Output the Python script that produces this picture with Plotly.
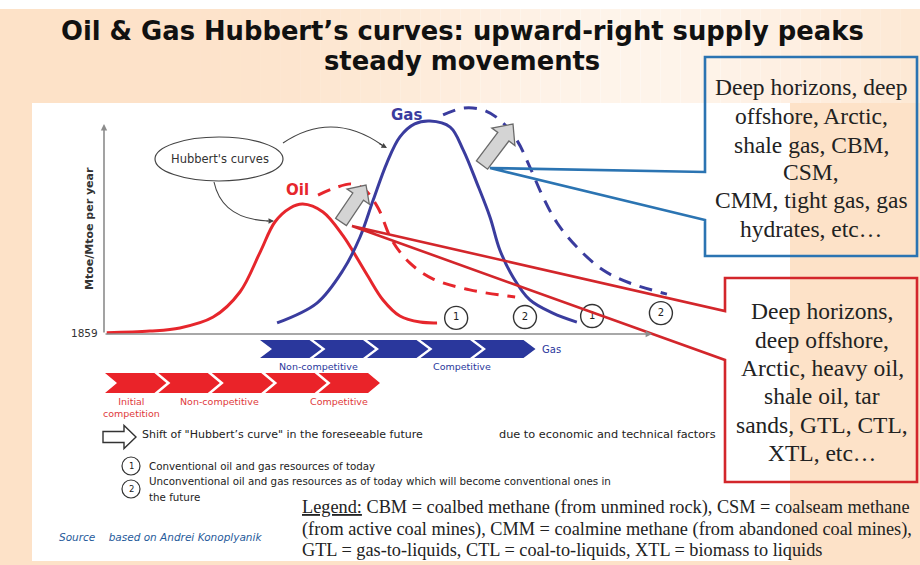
import math
import plotly.graph_objects as go

# ---------------- data (chart units: time index vs. production index) ----------------
oil_x = [0.5, 8.4, 13.9, 20.0, 24.9, 28.6, 31.3, 34.1, 36.4, 40.1, 43.8, 48.2, 51.1, 54.2, 57.9, 61.0]
oil_y = [0.6, 1.4, 2.9, 8.1, 20.1, 39.2, 53.6, 60.3, 62.2, 58.4, 46.9, 28.2, 16.3, 8.6, 5.7, 5.3]
oil_shift_x = [39.2, 42.3, 45.4, 47.8, 50.2, 52.7, 56.0, 60.3, 67.0, 75.3]
oil_shift_y = [66.5, 69.9, 71.8, 68.9, 60.3, 45.0, 34.0, 26.3, 21.1, 17.7]
gas_x = [31.7, 39.0, 43.8, 46.9, 49.3, 51.8, 54.2, 56.9, 59.7, 63.4, 65.8, 68.3, 70.7, 72.5, 74.9, 78.0, 82.2, 86.6]
gas_y = [5.3, 14.8, 30.6, 46.4, 64.1, 81.8, 94.3, 100.5, 101.9, 99.0, 88.0, 72.2, 55.9, 40.2, 27.3, 16.3, 10.0, 5.7]
gas_shift_x = [62.1, 65.8, 69.4, 72.5, 75.6, 78.0, 80.4, 83.0, 86.6, 91.4, 96.3, 103.1]
gas_shift_y = [104.8, 108.1, 107.2, 102.4, 92.8, 79.9, 65.6, 53.1, 41.6, 30.6, 24.4, 19.1]
resource_x = [64.5, 77.1, 89.4, 102.0]
resource_y = [7.7, 8.1, 8.6, 10.0]
resource_labels = ["1", "2", "1", "2"]

gas_phase_count = 5
oil_phase_count = 5
gas_phase_labels = ["Non-competitive", "Competitive"]
oil_phase_labels = ["Initial<br>competition", "Non-competitive", "Competitive"]

title_lines = ["Oil & Gas Hubbert’s curves: upward-right supply peaks", "steady movements"]
gas_box_lines = ["Deep horizons, deep", "offshore, Arctic,", "shale gas, CBM,", "CSM,",
                 "CMM, tight gas, gas", "hydrates, etc…"]
oil_box_lines = ["Deep horizons,", "deep offshore,", "Arctic, heavy oil,", "shale oil, tar",
                 "sands, GTL, CTL,", "XTL, etc…"]
legend_lines = ['<span style="text-decoration:underline">Legend:</span> CBM = coalbed methane (from unmined rock), CSM = coalseam methane',
                "(from active coal mines), CMM = coalmine methane (from abandoned coal mines),",
                "GTL = gas-to-liquids, CTL = coal-to-liquids, XTL = biomass to liquids"]

# ---------------- layout geometry ----------------
W, H = 920, 565
SANS = "DejaVu Sans, Verdana, sans-serif"
SERIF = "Liberation Serif, Times New Roman, serif"
RED = "#e6262c"
NAVY = "#3a3c9e"
BOX_RED = "#d3262b"
BOX_BLUE = "#2b74b2"
CHEV_BLUE = "#2a379c"
CHEV_RED = "#ea2329"
PEACH = "#fde2c8"

# chart axes: origin pixel and px per unit
OX, OY = 104, 334
SX, SY = 5.46, 2.09
CX0, CX1 = 94, 700
CY0, CY1 = 345, 100

fig = go.Figure()

fig.add_trace(go.Scatter(x=[0, W], y=[0, H], mode="markers", marker=dict(opacity=0),
                         hoverinfo="skip", showlegend=False, xaxis="x", yaxis="y"))

def chart_line(xs, ys, color, dash=None):
    fig.add_trace(go.Scatter(x=xs, y=ys, mode="lines", xaxis="x2", yaxis="y2",
                             line=dict(color=color, width=3, shape="spline", smoothing=1.0,
                                       dash=dash), hoverinfo="skip", showlegend=False))

chart_line(oil_x, oil_y, RED)
chart_line(gas_x, gas_y, NAVY)
chart_line(oil_shift_x, oil_shift_y, RED, "13px,9px")
chart_line(gas_shift_x, gas_shift_y, NAVY, "13px,9px")

fig.add_trace(go.Scatter(x=resource_x, y=resource_y, mode="markers+text", text=resource_labels,
                         textposition="middle center", xaxis="x2", yaxis="y2",
                         marker=dict(size=23, color="white", line=dict(color="#333", width=1.4)),
                         textfont=dict(family=SANS, size=10, color="#222"),
                         cliponaxis=False, hoverinfo="skip", showlegend=False))

shapes = []
annotations = []

# background
shapes.append(dict(type="rect", xref="x", yref="y", x0=0, x1=W, y0=0, y1=9,
                   fillcolor="white", line_width=0, layer="below"))
for i in range(46):
    xa = i * 20
    op = 0.62 * math.exp(-((xa + 10 - 640) / 280.0) ** 2)
    shapes.append(dict(type="rect", xref="x", yref="y", x0=xa, x1=xa + 20.5, y0=9, y1=103,
                       fillcolor="white", opacity=op, line_width=0, layer="below"))
shapes.append(dict(type="rect", xref="x", yref="y", x0=32, x1=790, y0=103, y1=561,
                   fillcolor="white", line_width=0, layer="below"))

# title
for txt, ty in zip(title_lines, [31, 61]):
    annotations.append(dict(x=462, y=ty, xref="x", yref="y", text="<b>" + txt + "</b>",
                            showarrow=False, font=dict(family="DejaVu Sans", size=25.8, color="#111")))

# chart axes
annotations.append(dict(x=652, y=OY, ax=OX, ay=OY, xref="x", yref="y", axref="x", ayref="y",
                        text="", showarrow=True, arrowhead=2, arrowsize=0.8, arrowwidth=1.6,
                        arrowcolor="#8c8c8c"))
annotations.append(dict(x=OX, y=124, ax=OX, ay=OY, xref="x", yref="y", axref="x", ayref="y",
                        text="", showarrow=True, arrowhead=2, arrowsize=0.8, arrowwidth=1.6,
                        arrowcolor="#8c8c8c"))
annotations.append(dict(x=89, y=229, xref="x", yref="y", text="<b>Mtoe/Mtoe per year</b>",
                        textangle=-90, showarrow=False,
                        font=dict(family=SANS, size=11, color="#333")))
annotations.append(dict(x=100, y=333, xref="x", yref="y", text="1859", showarrow=False,
                        xanchor="right", font=dict(family=SANS, size=10.5, color="#333")))

# Hubbert's curves bubble
shapes.append(dict(type="circle", xref="x", yref="y", x0=155, x1=283, y0=137, y1=181,
                   line=dict(color="#444", width=1.2), fillcolor="rgba(0,0,0,0)"))
annotations.append(dict(x=220, y=159, xref="x", yref="y", text="Hubbert's curves",
                        showarrow=False, font=dict(family=SANS, size=11.5, color="#333")))
shapes.append(dict(type="path", xref="x", yref="y", path="M 283,143 Q 332,110 382,145",
                   line=dict(color="#444", width=1.1)))
shapes.append(dict(type="path", xref="x", yref="y", path="M 214,182 Q 222,219 268,221",
                   line=dict(color="#444", width=1.1)))
annotations.append(dict(x=387, y=148, ax=-9, ay=-5, xref="x", yref="y", text="", showarrow=True,
                        arrowhead=2, arrowsize=1, arrowwidth=1.1, arrowcolor="#444"))
annotations.append(dict(x=274, y=221, ax=-9, ay=0, xref="x", yref="y", text="", showarrow=True,
                        arrowhead=2, arrowsize=1, arrowwidth=1.1, arrowcolor="#444"))

# curve labels
annotations.append(dict(x=297, y=190, xref="x", yref="y", text="<b>Oil</b>", showarrow=False,
                        font=dict(family=SANS, size=15, color=RED)))
annotations.append(dict(x=406, y=115, xref="x", yref="y", text="<b>Gas</b>", showarrow=False,
                        font=dict(family=SANS, size=15, color=NAVY)))

# block arrows
def block_arrow(bx, by, tx, ty, sw, hw, hl):
    dx, dy = tx - bx, ty - by
    L = math.hypot(dx, dy)
    ux, uy = dx / L, dy / L
    nx, ny = -uy, ux
    hx, hy = tx - ux * hl, ty - uy * hl
    pts = [(bx + nx * sw / 2, by + ny * sw / 2), (hx + nx * sw / 2, hy + ny * sw / 2),
           (hx + nx * hw / 2, hy + ny * hw / 2), (tx, ty),
           (hx - nx * hw / 2, hy - ny * hw / 2), (hx - nx * sw / 2, hy - ny * sw / 2),
           (bx - nx * sw / 2, by - ny * sw / 2)]
    return "M " + " L ".join(f"{px:.1f},{py:.1f}" for px, py in pts) + " Z"

shapes.append(dict(type="path", xref="x", yref="y", path=block_arrow(341, 222, 366, 185, 13, 27, 14),
                   fillcolor="#d4d4d4", line=dict(color="#6a6a6a", width=1.3), layer="above"))
shapes.append(dict(type="path", xref="x", yref="y", path=block_arrow(482, 165, 513, 124, 14, 29, 16),
                   fillcolor="#d4d4d4", line=dict(color="#6a6a6a", width=1.3), layer="above"))

# callouts
shapes.append(dict(type="path", xref="x", yref="y",
                   path="M 705,57 L 917,57 L 917,256 L 705,256 L 705,220 L 490,168 L 705,172 Z",
                   line=dict(color=BOX_BLUE, width=2.6), fillcolor="rgba(0,0,0,0)", layer="above"))
shapes.append(dict(type="path", xref="x", yref="y",
                   path="M 725,278 L 917,278 L 917,482 L 725,482 L 725,360 L 352,226 L 725,311 Z",
                   line=dict(color=BOX_RED, width=2.6), fillcolor="rgba(0,0,0,0)", layer="above"))
for txt, ty in zip(gas_box_lines, [87, 116, 145, 172, 200, 229]):
    annotations.append(dict(x=811, y=ty, xref="x", yref="y", text=txt, showarrow=False,
                            font=dict(family=SERIF, size=23.5, color="#222")))
for txt, ty in zip(oil_box_lines, [311, 340, 368, 396, 425, 453]):
    annotations.append(dict(x=822, y=ty, xref="x", yref="y", text=txt, showarrow=False,
                            font=dict(family=SERIF, size=23.5, color="#222")))

# chevron timelines
def chevrons(x_start, y0, y1, n, w, tip, gap, color):
    ym = (y0 + y1) / 2
    out = []
    for k in range(n):
        xl = x_start + k * (w - tip + gap)
        path = (f"M {xl},{y0} L {xl + w - tip},{y0} L {xl + w},{ym} L {xl + w - tip},{y1} "
                f"L {xl},{y1} L {xl + tip},{ym} Z")
        out.append(dict(type="path", xref="x", yref="y", path=path, fillcolor=color, line_width=0))
    return out

shapes += chevrons(260, 340, 358, gas_phase_count, 61.5, 12, 4, CHEV_BLUE)
shapes += chevrons(105, 373, 393, oil_phase_count, 61.4, 12, 4, CHEV_RED)
annotations.append(dict(x=540, y=349, xref="x", yref="y", text="Gas", showarrow=False, xanchor="left",
                        font=dict(family=SANS, size=10, color=CHEV_BLUE)))
for txt, cx in zip(gas_phase_labels, [318, 462]):
    annotations.append(dict(x=cx, y=366, xref="x", yref="y", text=txt, showarrow=False,
                            font=dict(family=SANS, size=9.5, color=CHEV_BLUE)))
for txt, cx, cy in zip(oil_phase_labels, [131, 219, 339], [407, 401, 401]):
    annotations.append(dict(x=cx, y=cy, xref="x", yref="y", text=txt, showarrow=False,
                            font=dict(family=SANS, size=9.5, color="#e0393b")))

# legend block
shapes.append(dict(type="path", xref="x", yref="y", path=block_arrow(103, 437, 136, 437, 11, 23, 12),
                   fillcolor="white", line=dict(color="#333", width=1.4)))
annotations.append(dict(x=140, y=434, xref="x", yref="y", xanchor="left", showarrow=False,
                        text='Shift of "Hubbert’s curve" in the foreseeable future',
                        font=dict(family=SANS, size=11, color="#222")))
annotations.append(dict(x=497, y=434, xref="x", yref="y", xanchor="left", showarrow=False,
                        text="due to economic and technical factors",
                        font=dict(family=SANS, size=11.3, color="#222")))
for cy, lab in [(466, "1"), (489, "2")]:
    shapes.append(dict(type="circle", xref="x", yref="y", x0=122, x1=140, y0=cy - 9, y1=cy + 9,
                       line=dict(color="#333", width=1.2), fillcolor="white"))
    annotations.append(dict(x=131, y=cy, xref="x", yref="y", text=lab, showarrow=False,
                            font=dict(family=SANS, size=8.5, color="#222")))
annotations.append(dict(x=147, y=466, xref="x", yref="y", xanchor="left", showarrow=False,
                        text="Conventional oil and gas resources of today",
                        font=dict(family=SANS, size=10.3, color="#222")))
annotations.append(dict(x=147, y=481, xref="x", yref="y", xanchor="left", showarrow=False,
                        text="Unconventional oil and gas resources as of today which will become conventional ones in",
                        font=dict(family=SANS, size=10.3, color="#222")))
annotations.append(dict(x=147, y=497, xref="x", yref="y", xanchor="left", showarrow=False,
                        text="the future", font=dict(family=SANS, size=10.3, color="#222")))
annotations.append(dict(x=57, y=537, xref="x", yref="y", xanchor="left", showarrow=False,
                        text="<i>Source    based on Andrei Konoplyanik</i>",
                        font=dict(family=SANS, size=10.5, color="#1f5a9a")))
for txt, ty in zip(legend_lines, [507, 529, 550]):
    annotations.append(dict(x=300, y=ty, xref="x", yref="y", xanchor="left", showarrow=False,
                            text=txt, font=dict(family=SERIF, size=18.3, color="#222")))

fig.update_layout(
    width=W, height=H, margin=dict(l=0, r=0, t=0, b=0),
    paper_bgcolor=PEACH, plot_bgcolor="rgba(0,0,0,0)",
    xaxis=dict(range=[0, W], domain=[0, 1], visible=False, fixedrange=True),
    yaxis=dict(range=[H, 0], domain=[0, 1], visible=False, fixedrange=True),
    xaxis2=dict(range=[(CX0 - OX) / SX, (CX1 - OX) / SX], domain=[CX0 / W, CX1 / W],
                anchor="y2", visible=False, fixedrange=True),
    yaxis2=dict(range=[(OY - CY0) / SY, (OY - CY1) / SY], domain=[(H - CY0) / H, (H - CY1) / H],
                anchor="x2", visible=False, fixedrange=True),
    shapes=shapes, annotations=annotations, showlegend=False,
)

fig.write_html("out.html", config={"displayModeBar": False},
               post_script="document.body.style.margin='0px';document.body.style.padding='0px';"
                           "document.body.style.overflow='hidden';")
